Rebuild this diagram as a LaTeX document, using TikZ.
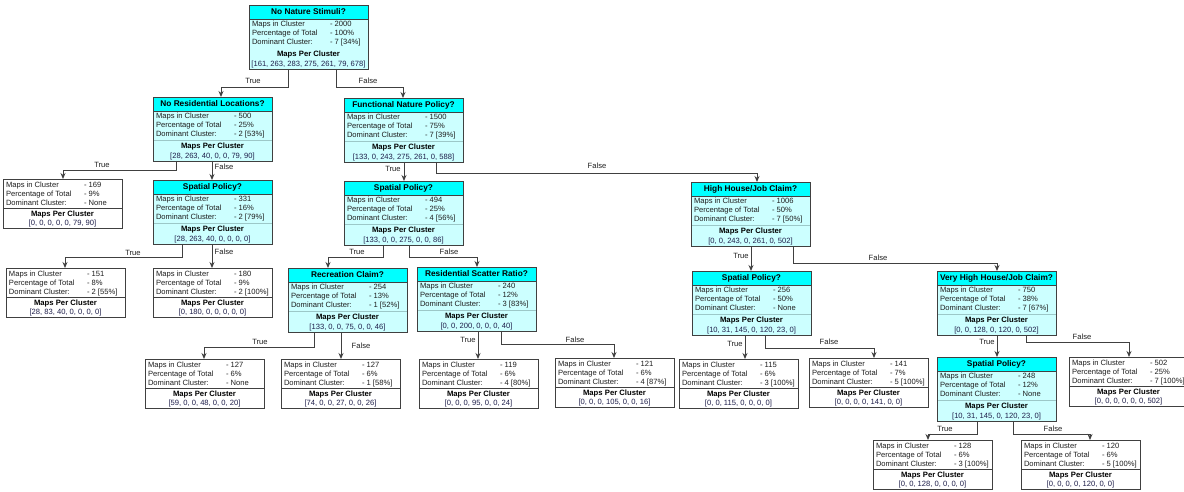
\documentclass[tikz,border=0pt]{standalone}
\usepackage{fontspec}
\setmainfont{Liberation Sans}
\usetikzlibrary{arrows.meta,calc}

\definecolor{headcyan}{HTML}{00FFFF}
\definecolor{bodycyan}{HTML}{CCFFFF}
\definecolor{framegray}{HTML}{404040}
\definecolor{divcyan}{HTML}{9CC8C8}
\definecolor{vectxt}{HTML}{1E1E4A}

\tikzset{
  every node/.style={inner sep=0pt, outer sep=0pt},
  boxframe/.style={draw=framegray, line width=0.9pt},
  hdr/.style={font=\fontsize{8.3}{9}\selectfont\bfseries, text height=6pt, text depth=1.6pt},
  mpc/.style={font=\fontsize{7.7}{9}\selectfont\bfseries, text height=5.6pt, text depth=1.5pt},
  txt/.style={font=\fontsize{7.6}{9}\selectfont, text=black!88, text height=5.6pt, text depth=1.5pt},
  vec/.style={font=\fontsize{7.6}{9}\selectfont, text=vectxt, text height=5.6pt, text depth=1.5pt},
  conn/.style={draw=framegray, line width=0.9pt, -{Stealth[length=6pt,width=5pt]}},
  edgelbl/.style={font=\fontsize{7.6}{9}\selectfont, text=black!88, text height=5.6pt, text depth=1.5pt},
}

\newif\ifdivline
\divlinetrue

% decision box: name, x, y, title, maps, percentage, dominant, vector
\newcommand\decbox[8]{%
  \node[anchor=north west, minimum width=119pt, minimum height=64pt, fill=bodycyan] (#1) at (#2,#3) {};
  \fill[headcyan] (#1.north west) rectangle ($(#1.north east)+(0,14)$);
  \draw[framegray, line width=0.9pt] ($(#1.north west)+(0,14)$) -- ($(#1.north east)+(0,14)$);
  \ifdivline
    \draw[divcyan, line width=0.7pt] ($(#1.north west)+(0,43)$) -- ($(#1.north east)+(0,43)$);
  \fi
  \draw[boxframe] (#1.north west) rectangle (#1.south east);
  \node[hdr] (#1-h) at ($(#1.north)+(0,7)$) {#4};
  \node[txt, anchor=west] (#1-l1) at ($(#1.north west)+(3,19)$) {Maps in Cluster};
  \node[txt, anchor=west] (#1-v1) at ($(#1.north west)+(81,19)$) {- #5};
  \node[txt, anchor=west] (#1-l2) at ($(#1.north west)+(3,28)$) {Percentage of Total};
  \node[txt, anchor=west] (#1-v2) at ($(#1.north west)+(81,28)$) {- #6};
  \node[txt, anchor=west] (#1-l3) at ($(#1.north west)+(3,37)$) {Dominant Cluster:};
  \node[txt, anchor=west] (#1-v3) at ($(#1.north west)+(81,37)$) {- #7};
  \node[mpc] (#1-m) at ($(#1.north)+(0,49)$) {Maps Per Cluster};
  \node[vec] (#1-c) at ($(#1.north)+(0,59)$) {[#8]};
}

% leaf box: name, x, y, maps, percentage, dominant, vector
\newcommand\leafbox[7]{%
  \node[anchor=north west, minimum width=119pt, minimum height=49pt, fill=white] (#1) at (#2,#3) {};
  \draw[framegray, line width=0.9pt] ($(#1.north west)+(0,29)$) -- ($(#1.north east)+(0,29)$);
  \draw[boxframe] (#1.north west) rectangle (#1.south east);
  \node[txt, anchor=west] (#1-l1) at ($(#1.north west)+(3,6)$) {Maps in Cluster};
  \node[txt, anchor=west] (#1-v1) at ($(#1.north west)+(81,6)$) {- #4};
  \node[txt, anchor=west] (#1-l2) at ($(#1.north west)+(3,15)$) {Percentage of Total};
  \node[txt, anchor=west] (#1-v2) at ($(#1.north west)+(81,15)$) {- #5};
  \node[txt, anchor=west] (#1-l3) at ($(#1.north west)+(3,24)$) {Dominant Cluster:};
  \node[txt, anchor=west] (#1-v3) at ($(#1.north west)+(81,24)$) {- #6};
  \node[mpc] (#1-m) at ($(#1.north)+(0,35)$) {Maps Per Cluster};
  \node[vec] (#1-c) at ($(#1.north)+(0,44)$) {[#7]};
}

% straight drop: from, x offset, to
\newcommand\vconn[3]{%
  \draw[conn] ($(#1.south west)+(#2,0)$) coordinate (#1-#3-s) -- (#1-#3-s |- #3.north);}
% elbow: from, x offset, drop, to, x offset
\newcommand\econn[5]{%
  \draw[conn] ($(#1.south west)+(#2,0)$) -- ++(0,#3) -| ($(#4.north west)+(#5,0)$);}

\begin{document}
\begin{tikzpicture}[x=1pt, y=-1pt]
\useasboundingbox (0,0) rectangle (1184,492);
\fill[white] (0,0) rectangle (1184,492);
\clip (0,0) rectangle (1184,492);

% ---- decision nodes
\divlinefalse
\decbox{root}{249}{5}{No Nature Stimuli?}{2000}{100\%}{7 [34\%]}{161, 263, 283, 275, 261, 79, 678}
\divlinetrue
\decbox{nores}{153}{97}{No Residential Locations?}{500}{25\%}{2 [53\%]}{28, 263, 40, 0, 0, 79, 90}
\decbox{funct}{344}{98}{Functional Nature Policy?}{1500}{75\%}{7 [39\%]}{133, 0, 243, 275, 261, 0, 588}
\decbox{spatL}{153}{180}{Spatial Policy?}{331}{16\%}{2 [79\%]}{28, 263, 40, 0, 0, 0, 0}
\decbox{spatM}{344}{181}{Spatial Policy?}{494}{25\%}{4 [56\%]}{133, 0, 0, 275, 0, 0, 86}
\decbox{high}{691}{182}{High House/Job Claim?}{1006}{50\%}{7 [50\%]}{0, 0, 243, 0, 261, 0, 502}
\decbox{recr}{288}{268}{Recreation Claim?}{254}{13\%}{1 [52\%]}{133, 0, 0, 75, 0, 0, 46}
\decbox{scat}{417}{267}{Residential Scatter Ratio?}{240}{12\%}{3 [83\%]}{0, 0, 200, 0, 0, 0, 40}
\decbox{spatR}{692}{271}{Spatial Policy?}{256}{50\%}{None}{10, 31, 145, 0, 120, 23, 0}
\decbox{vhigh}{937}{271}{Very High House/Job Claim?}{750}{38\%}{7 [67\%]}{0, 0, 128, 0, 120, 0, 502}
\decbox{spatF}{937}{357}{Spatial Policy?}{248}{12\%}{None}{10, 31, 145, 0, 120, 23, 0}

% ---- leaves
\leafbox{lf169}{3}{179}{169}{9\%}{None}{0, 0, 0, 0, 0, 79, 90}
\leafbox{lf151}{6}{268}{151}{8\%}{2 [55\%]}{28, 83, 40, 0, 0, 0, 0}
\leafbox{lf180}{153}{268}{180}{9\%}{2 [100\%]}{0, 180, 0, 0, 0, 0, 0}
\leafbox{lf127a}{145}{359}{127}{6\%}{None}{59, 0, 0, 48, 0, 0, 20}
\leafbox{lf127b}{281}{359}{127}{6\%}{1 [58\%]}{74, 0, 0, 27, 0, 0, 26}
\leafbox{lf119}{419}{359}{119}{6\%}{4 [80\%]}{0, 0, 0, 95, 0, 0, 24}
\leafbox{lf121}{555}{358}{121}{6\%}{4 [87\%]}{0, 0, 0, 105, 0, 0, 16}
\leafbox{lf115}{679}{359}{115}{6\%}{3 [100\%]}{0, 0, 115, 0, 0, 0, 0}
\leafbox{lf141}{809}{358}{141}{7\%}{5 [100\%]}{0, 0, 0, 0, 141, 0, 0}
\leafbox{lf502}{1069}{357}{502}{25\%}{7 [100\%]}{0, 0, 0, 0, 0, 0, 502}
\leafbox{lf128}{873}{440}{128}{6\%}{3 [100\%]}{0, 0, 128, 0, 0, 0, 0}
\leafbox{lf120}{1021}{440}{120}{6\%}{5 [100\%]}{0, 0, 0, 0, 120, 0, 0}

% ---- connectors
\econn{root}{39}{18}{nores}{68}
\econn{root}{87}{18}{funct}{59}
\econn{nores}{23}{9}{lf169}{60}
\vconn{nores}{59}{spatL}
\econn{spatL}{29}{13}{lf151}{59}
\vconn{spatL}{59}{lf180}
\vconn{funct}{60}{spatM}
\econn{funct}{92}{11}{high}{66}
\econn{spatM}{39}{12}{recr}{40}
\econn{spatM}{65}{12}{scat}{60}
\vconn{high}{60}{spatR}
\econn{high}{102}{17}{vhigh}{60}
\econn{recr}{26}{15}{lf127a}{59}
\vconn{recr}{53}{lf127b}
\vconn{scat}{61}{lf119}
\econn{scat}{84}{13}{lf121}{59}
\vconn{spatR}{53}{lf115}
\econn{spatR}{73}{13}{lf141}{65}
\vconn{vhigh}{60}{spatF}
\econn{vhigh}{89}{7}{lf502}{60}
\econn{spatF}{40}{13}{lf128}{55}
\econn{spatF}{76}{13}{lf120}{69}

% ---- branch labels
\node[edgelbl] (t1) at (253,81) {True};
\node[edgelbl] (f1) at (368,81) {False};
\node[edgelbl] (t2) at (102,165) {True};
\node[edgelbl] (f2) at (224,167) {False};
\node[edgelbl] (t3) at (133,253) {True};
\node[edgelbl] (f3) at (224,252) {False};
\node[edgelbl] (t4) at (393,169) {True};
\node[edgelbl] (f4) at (597,166) {False};
\node[edgelbl] (t5) at (357,252) {True};
\node[edgelbl] (f5) at (449,252) {False};
\node[edgelbl] (t6) at (741,256) {True};
\node[edgelbl] (f6) at (878,258) {False};
\node[edgelbl] (t7) at (260,342) {True};
\node[edgelbl] (f7) at (361,346) {False};
\node[edgelbl] (t8) at (468,340) {True};
\node[edgelbl] (f8) at (575,340) {False};
\node[edgelbl] (t9) at (735,344) {True};
\node[edgelbl] (f9) at (829,342) {False};
\node[edgelbl] (t10) at (987,342) {True};
\node[edgelbl] (f10) at (1082,337) {False};
\node[edgelbl] (t11) at (945,429) {True};
\node[edgelbl] (f11) at (1053,429) {False};
\end{tikzpicture}
\end{document}
